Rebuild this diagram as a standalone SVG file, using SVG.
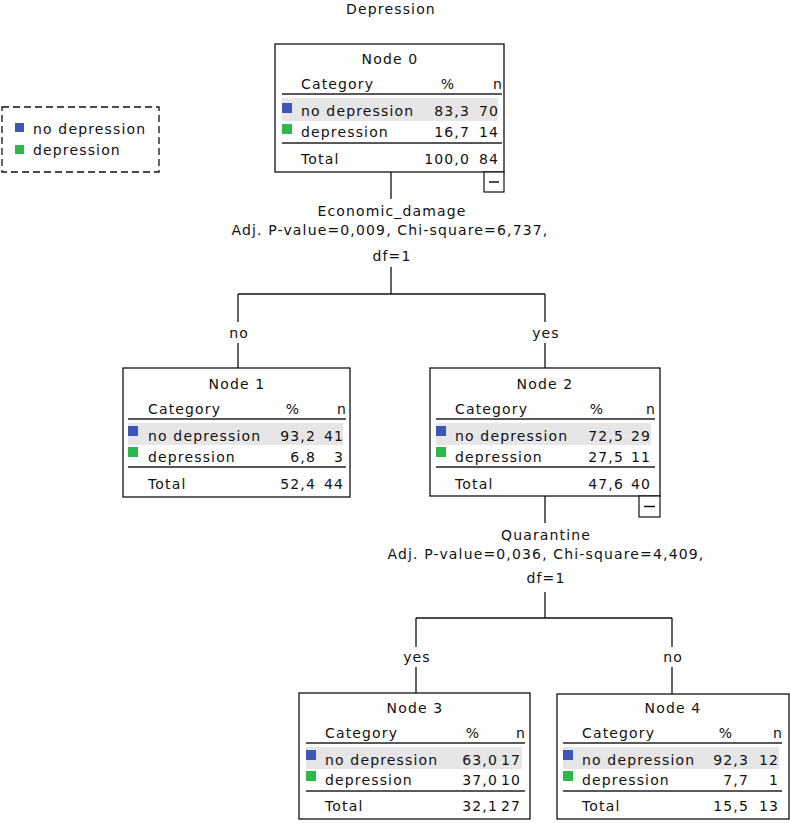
<svg xmlns="http://www.w3.org/2000/svg" width="790" height="823" viewBox="0 0 790 823">
<style>
text{font-family:"DejaVu Sans","Liberation Sans",sans-serif;font-size:14px;letter-spacing:1.15px;fill:#111}
.c{text-anchor:middle}
.e{text-anchor:end}
.box{fill:#fff;stroke:#111;stroke-width:1.3}
.hl{stroke:#222;stroke-width:1.6}
.row{fill:#e6e6e6}
.b{fill:#3d56b8}
.g{fill:#2db84a}
.cn{fill:none;stroke:#111;stroke-width:1.3}
.mb{fill:#fff;stroke:#111;stroke-width:1.2}
.leg{fill:#fff;stroke:#111;stroke-width:1.3;stroke-dasharray:7 4}
</style>
<text class="c" x="391" y="14">Depression</text>
<g id="legend">
<rect class="leg" x="2" y="107" width="157" height="65"/>
<rect class="b" x="15" y="123" width="9" height="9"/>
<text x="33" y="134">no depression</text>
<rect class="g" x="15" y="145" width="9" height="9"/>
<text x="33" y="155">depression</text>
</g>
<g id="connectors">
<path class="cn" d="M391 172V199M391 267V294M238 294H545M238 294V322M238 343V368M545 294V322M545 343V368"/>
<text class="c" x="392" y="216">Economic_damage</text>
<text class="c" x="390" y="235">Adj. P-value=0,009, Chi-square=6,737,</text>
<text class="c" x="392" y="261">df=1</text>
<text class="c" x="239" y="338">no</text>
<text class="c" x="546" y="338">yes</text>
<path class="cn" d="M545 496V523M545 592V618M416 618H672M416 618V647M416 667V693M672 618V647M672 667V694"/>
<text class="c" x="546" y="540">Quarantine</text>
<text class="c" x="546" y="559">Adj. P-value=0,036, Chi-square=4,409,</text>
<text class="c" x="546" y="583">df=1</text>
<text class="c" x="417" y="662">yes</text>
<text class="c" x="673" y="662">no</text>
</g>
<g id="node0">
<rect class="box" x="275" y="44" width="229" height="128"/>
<text class="c" x="390" y="64">Node 0</text>
<text x="301" y="89">Category</text>
<text class="c" x="448" y="89">%</text>
<text class="e" x="503" y="89">n</text>
<line class="hl" x1="282" y1="94" x2="502" y2="94"/>
<rect class="row" x="282" y="98" width="216" height="23"/>
<rect class="b" x="282" y="103" width="10" height="10"/>
<text x="301" y="116">no depression</text>
<text class="e" x="470" y="116">83,3</text>
<text class="e" x="499" y="116">70</text>
<rect class="g" x="282" y="124" width="10" height="10"/>
<text x="301" y="137">depression</text>
<text class="e" x="470" y="137">16,7</text>
<text class="e" x="499" y="137">14</text>
<line class="hl" x1="282" y1="143" x2="502" y2="143"/>
<text x="301" y="164">Total</text>
<text class="e" x="470" y="164">100,0</text>
<text class="e" x="499" y="164">84</text>
<rect class="mb" x="484" y="172" width="20" height="20"/>
<line x1="489" y1="182" x2="499" y2="182" stroke="#111" stroke-width="1.5"/>
</g>
<g id="node1">
<rect class="box" x="123" y="368" width="227" height="129"/>
<text class="c" x="237" y="389">Node 1</text>
<text x="148" y="414">Category</text>
<text class="c" x="293" y="414">%</text>
<text class="e" x="347" y="414">n</text>
<line class="hl" x1="128" y1="419" x2="346" y2="419"/>
<rect class="row" x="128" y="423" width="215" height="22"/>
<rect class="b" x="128" y="426" width="10" height="10"/>
<text x="148" y="441">no depression</text>
<text class="e" x="316" y="441">93,2</text>
<text class="e" x="344" y="441">41</text>
<rect class="g" x="128" y="447" width="10" height="10"/>
<text x="148" y="462">depression</text>
<text class="e" x="316" y="462">6,8</text>
<text class="e" x="344" y="462">3</text>
<line class="hl" x1="128" y1="467" x2="346" y2="467"/>
<text x="148" y="489">Total</text>
<text class="e" x="316" y="489">52,4</text>
<text class="e" x="344" y="489">44</text>
</g>
<g id="node2">
<rect class="box" x="430" y="368" width="230" height="128"/>
<text class="c" x="545" y="389">Node 2</text>
<text x="455" y="414">Category</text>
<text class="c" x="597" y="414">%</text>
<text class="e" x="656" y="414">n</text>
<line class="hl" x1="436" y1="419" x2="655" y2="419"/>
<rect class="row" x="436" y="423" width="215" height="22"/>
<rect class="b" x="436" y="426" width="10" height="10"/>
<text x="455" y="441">no depression</text>
<text class="e" x="624" y="441">72,5</text>
<text class="e" x="651" y="441">29</text>
<rect class="g" x="436" y="447" width="10" height="10"/>
<text x="455" y="462">depression</text>
<text class="e" x="624" y="462">27,5</text>
<text class="e" x="651" y="462">11</text>
<line class="hl" x1="436" y1="467" x2="655" y2="467"/>
<text x="455" y="489">Total</text>
<text class="e" x="624" y="489">47,6</text>
<text class="e" x="651" y="489">40</text>
<rect class="mb" x="639" y="496" width="21" height="21"/>
<line x1="644" y1="506.5" x2="655" y2="506.5" stroke="#111" stroke-width="1.5"/>
</g>
<g id="node3">
<rect class="box" x="299" y="693" width="231" height="126"/>
<text class="c" x="415" y="713">Node 3</text>
<text x="325" y="738">Category</text>
<text class="c" x="473" y="738">%</text>
<text class="e" x="526" y="738">n</text>
<line class="hl" x1="306" y1="743" x2="525" y2="743"/>
<rect class="row" x="306" y="747" width="216" height="22"/>
<rect class="b" x="306" y="750" width="10" height="10"/>
<text x="325" y="765">no depression</text>
<text class="e" x="498" y="765">63,0</text>
<text class="e" x="521" y="765">17</text>
<rect class="g" x="306" y="771" width="10" height="10"/>
<text x="325" y="785">depression</text>
<text class="e" x="498" y="785">37,0</text>
<text class="e" x="521" y="785">10</text>
<line class="hl" x1="306" y1="791" x2="525" y2="791"/>
<text x="325" y="811">Total</text>
<text class="e" x="498" y="811">32,1</text>
<text class="e" x="521" y="811">27</text>
</g>
<g id="node4">
<rect class="box" x="557" y="694" width="232" height="125"/>
<text class="c" x="673" y="713">Node 4</text>
<text x="582" y="738">Category</text>
<text class="c" x="726" y="738">%</text>
<text class="e" x="783" y="738">n</text>
<line class="hl" x1="563" y1="743" x2="782" y2="743"/>
<rect class="row" x="563" y="747" width="216" height="22"/>
<rect class="b" x="563" y="750" width="10" height="10"/>
<text x="582" y="765">no depression</text>
<text class="e" x="749" y="765">92,3</text>
<text class="e" x="779" y="765">12</text>
<rect class="g" x="563" y="771" width="10" height="10"/>
<text x="582" y="785">depression</text>
<text class="e" x="749" y="785">7,7</text>
<text class="e" x="779" y="785">1</text>
<line class="hl" x1="563" y1="791" x2="782" y2="791"/>
<text x="582" y="811">Total</text>
<text class="e" x="749" y="811">15,5</text>
<text class="e" x="779" y="811">13</text>
</g>
</svg>
